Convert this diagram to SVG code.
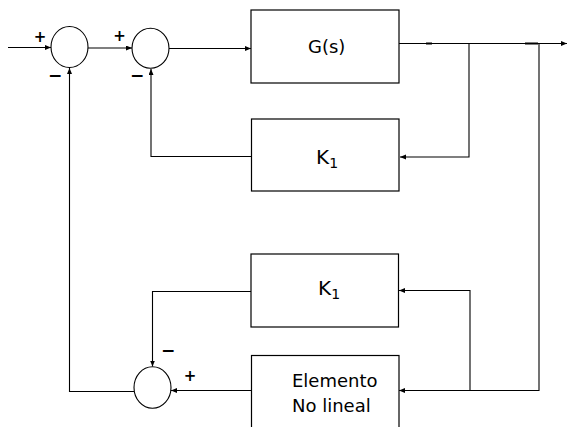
<svg xmlns="http://www.w3.org/2000/svg" width="568" height="427" viewBox="0 0 568 427">
<style>
.box{fill:#fff;stroke:#000;stroke-width:1.2}
.sum{fill:#fff;stroke:#000;stroke-width:1.1}
.ln{fill:none;stroke:#000;stroke-width:1.1}
.lbl{font-family:"DejaVu Sans",sans-serif;font-size:18px;fill:#000}
.k{font-size:20px}
.sub{font-size:14px}
.sg{font-family:"DejaVu Sans",sans-serif;font-weight:bold;fill:#000;text-anchor:middle}
.pl{font-size:15px}
.mn{font-size:17px}
</style>
<defs>
<marker id="ar" markerUnits="userSpaceOnUse" markerWidth="7" markerHeight="6" refX="6" refY="2.5" orient="auto">
<path d="M0,0 L6,2.5 L0,5 z" fill="#000"/>
</marker>
</defs>
<rect width="568" height="427" fill="#fff"/>
<g id="connectors">
<path class="ln" d="M8,47.5 H51" marker-end="url(#ar)"/>
<path class="ln" d="M88,48 H132" marker-end="url(#ar)"/>
<path class="ln" d="M169,48.5 H251" marker-end="url(#ar)"/>
<path class="ln" d="M399,43.5 H567" marker-end="url(#ar)"/>
<path class="ln" d="M469,43.5 V157 H400" marker-end="url(#ar)"/>
<path class="ln" d="M251,156.5 H151 V69" marker-end="url(#ar)"/>
<path class="ln" d="M539,43.5 V390.5 H399" marker-end="url(#ar)"/>
<path class="ln" d="M470,390.5 V290.5 H399" marker-end="url(#ar)"/>
<path class="ln" d="M251,291.5 H152.5 V366.5" marker-end="url(#ar)"/>
<path class="ln" d="M251,390.5 H171" marker-end="url(#ar)"/>
<path class="ln" d="M134,391.5 H69.5 V68" marker-end="url(#ar)"/>
<path fill="none" stroke="#000" stroke-width="2" d="M426,43.5 H432 M525,43.5 H538"/>
</g>
<g id="sum1"><ellipse class="sum" cx="69.5" cy="47" rx="18.5" ry="20.5"/></g>
<g id="sum2"><ellipse class="sum" cx="150.5" cy="48.3" rx="18.5" ry="20"/></g>
<g id="sum3"><ellipse class="sum" cx="152.5" cy="387.5" rx="18.5" ry="20.8"/></g>
<g id="signs">
<text class="sg pl" x="40" y="41.5">+</text>
<text class="sg mn" x="55" y="81">−</text>
<text class="sg pl" x="119.5" y="40.5">+</text>
<text class="sg mn" x="137" y="81">−</text>
<text class="sg mn" x="168" y="356">−</text>
<text class="sg pl" x="190" y="380.5">+</text>
</g>
<g id="G">
<rect class="box" x="251" y="10" width="148" height="73"/>
<text class="lbl" x="308" y="53" font-size="20">G(s)</text>
</g>
<g id="K1top">
<rect class="box" x="251.5" y="119" width="147.5" height="72"/>
<text class="lbl k" x="316" y="163.5">K<tspan class="sub" dy="4">1</tspan></text>
</g>
<g id="K1bottom">
<rect class="box" x="251" y="254" width="147.5" height="73"/>
<text class="lbl k" x="318" y="295">K<tspan class="sub" dy="4">1</tspan></text>
</g>
<g id="nonlinear">
<rect class="box" x="251.5" y="355.5" width="147.5" height="80"/>
<text class="lbl" x="292" y="386.7">Elemento</text>
<text class="lbl" x="292" y="411.7">No lineal</text>
</g>
</svg>
